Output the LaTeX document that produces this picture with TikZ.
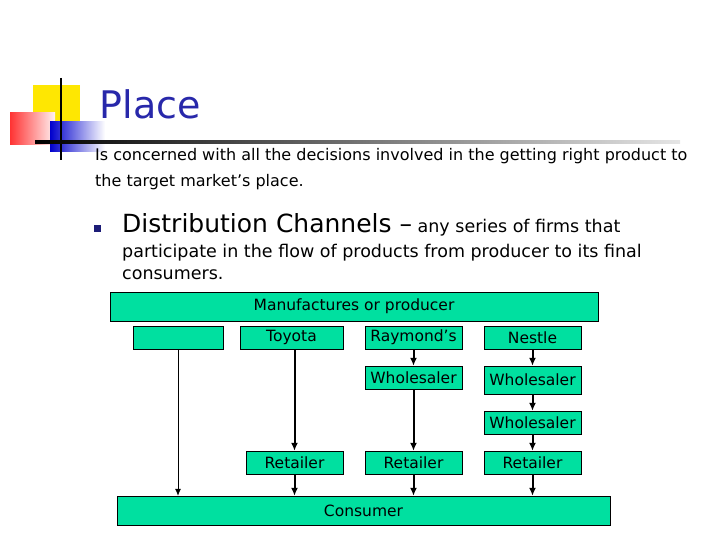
\documentclass[tikz,border=0pt]{standalone}
\usepackage{fontspec}
\setmainfont{DejaVu Sans}
\usetikzlibrary{positioning,arrows.meta}
\definecolor{boxgreen}{RGB}{0,224,160}
\definecolor{titleblue}{RGB}{40,40,170}
\tikzset{
  box/.style={draw=black,fill=boxgreen,inner sep=0pt,font=\fontsize{15.5}{17}\selectfont},
  flow/.style={-{Latex[length=8pt,width=7pt]},line width=2pt}
}
\begin{document}
\begin{tikzpicture}[x=1pt,y=-1pt]
  \useasboundingbox (0,0) rectangle (720,540);
  % logo
  \fill[yellow!90!orange] (33,85) rectangle (80,125);
  \shade[left color=red!80,right color=red!5] (10,113) rectangle (55,145);
  \shade[left color=blue!80!black,right color=white] (50,122) rectangle (105,152);
  \draw[line width=1.5pt] (61,78) -- (61,160);
  \shade[left color=black,right color=gray!20] (35,141) rectangle (680,144);
  % texts
  \node[anchor=west,text=titleblue,font=\fontsize{38}{40}\selectfont] (title) at (96,104) {Place};
  \node[anchor=north west,align=left,inner sep=0pt,font=\fontsize{16}{26}\selectfont] (intro) at (95,148)
    {Is concerned with all the decisions involved in the getting right product to\\the target market’s place.};
  \fill[titleblue!70!black] (94,225) rectangle (101,232);
  \node[anchor=north west,align=left,inner sep=0pt,font=\fontsize{17.5}{25}\selectfont] (dist) at (122,213)
    {{\fontsize{25}{25}\selectfont Distribution Channels --} any series of firms that\\participate in the flow of products from producer to its final\\[-3pt]consumers.};
  % diagram
  \node[box,minimum width=488,minimum height=29] (maker) at (354,306.5) {Manufactures or producer};
  \node[box,minimum width=90,minimum height=23] (direct) at (178,337.5) {};
  \node[box,minimum width=103,minimum height=23] (toyota) at (291.5,337.5) {Toyota};
  \node[box,minimum width=97,minimum height=23] (raymond) at (413.5,337.5) {Raymond's};
  \node[box,minimum width=97,minimum height=23] (nestle) at (532.5,337.5) {Nestle};
  \node[box,minimum width=97,minimum height=23] (whR) at (413.5,377.5) {Wholesaler};
  \node[box,minimum width=97,minimum height=28] (whN) at (532.5,380) {Wholesaler};
  \node[box,minimum width=97,minimum height=23] (whN2) at (532.5,422.5) {Wholesaler};
  \node[box,minimum width=97,minimum height=23] (retT) at (294.5,462.5) {Retailer};
  \node[box,minimum width=97,minimum height=23] (retR) at (413.5,462.5) {Retailer};
  \node[box,minimum width=97,minimum height=23] (retN) at (532.5,462.5) {Retailer};
  \node[box,minimum width=493,minimum height=29] (consumer) at (363.5,510.5) {Consumer};
  \draw[-{Latex[length=7pt,width=6pt]},line width=0.8pt] (direct) -- (direct |- consumer.north);
  \draw[flow] (toyota.south -| retT) -- (retT);
  \draw[flow] (raymond) -- (whR);
  \draw[flow] (whR) -- (retR);
  \draw[flow] (nestle) -- (whN);
  \draw[flow] (whN) -- (whN2);
  \draw[flow] (whN2) -- (retN);
  \draw[flow] (retT) -- (retT |- consumer.north);
  \draw[flow] (retR) -- (retR |- consumer.north);
  \draw[flow] (retN) -- (retN |- consumer.north);
\end{tikzpicture}
\end{document}
